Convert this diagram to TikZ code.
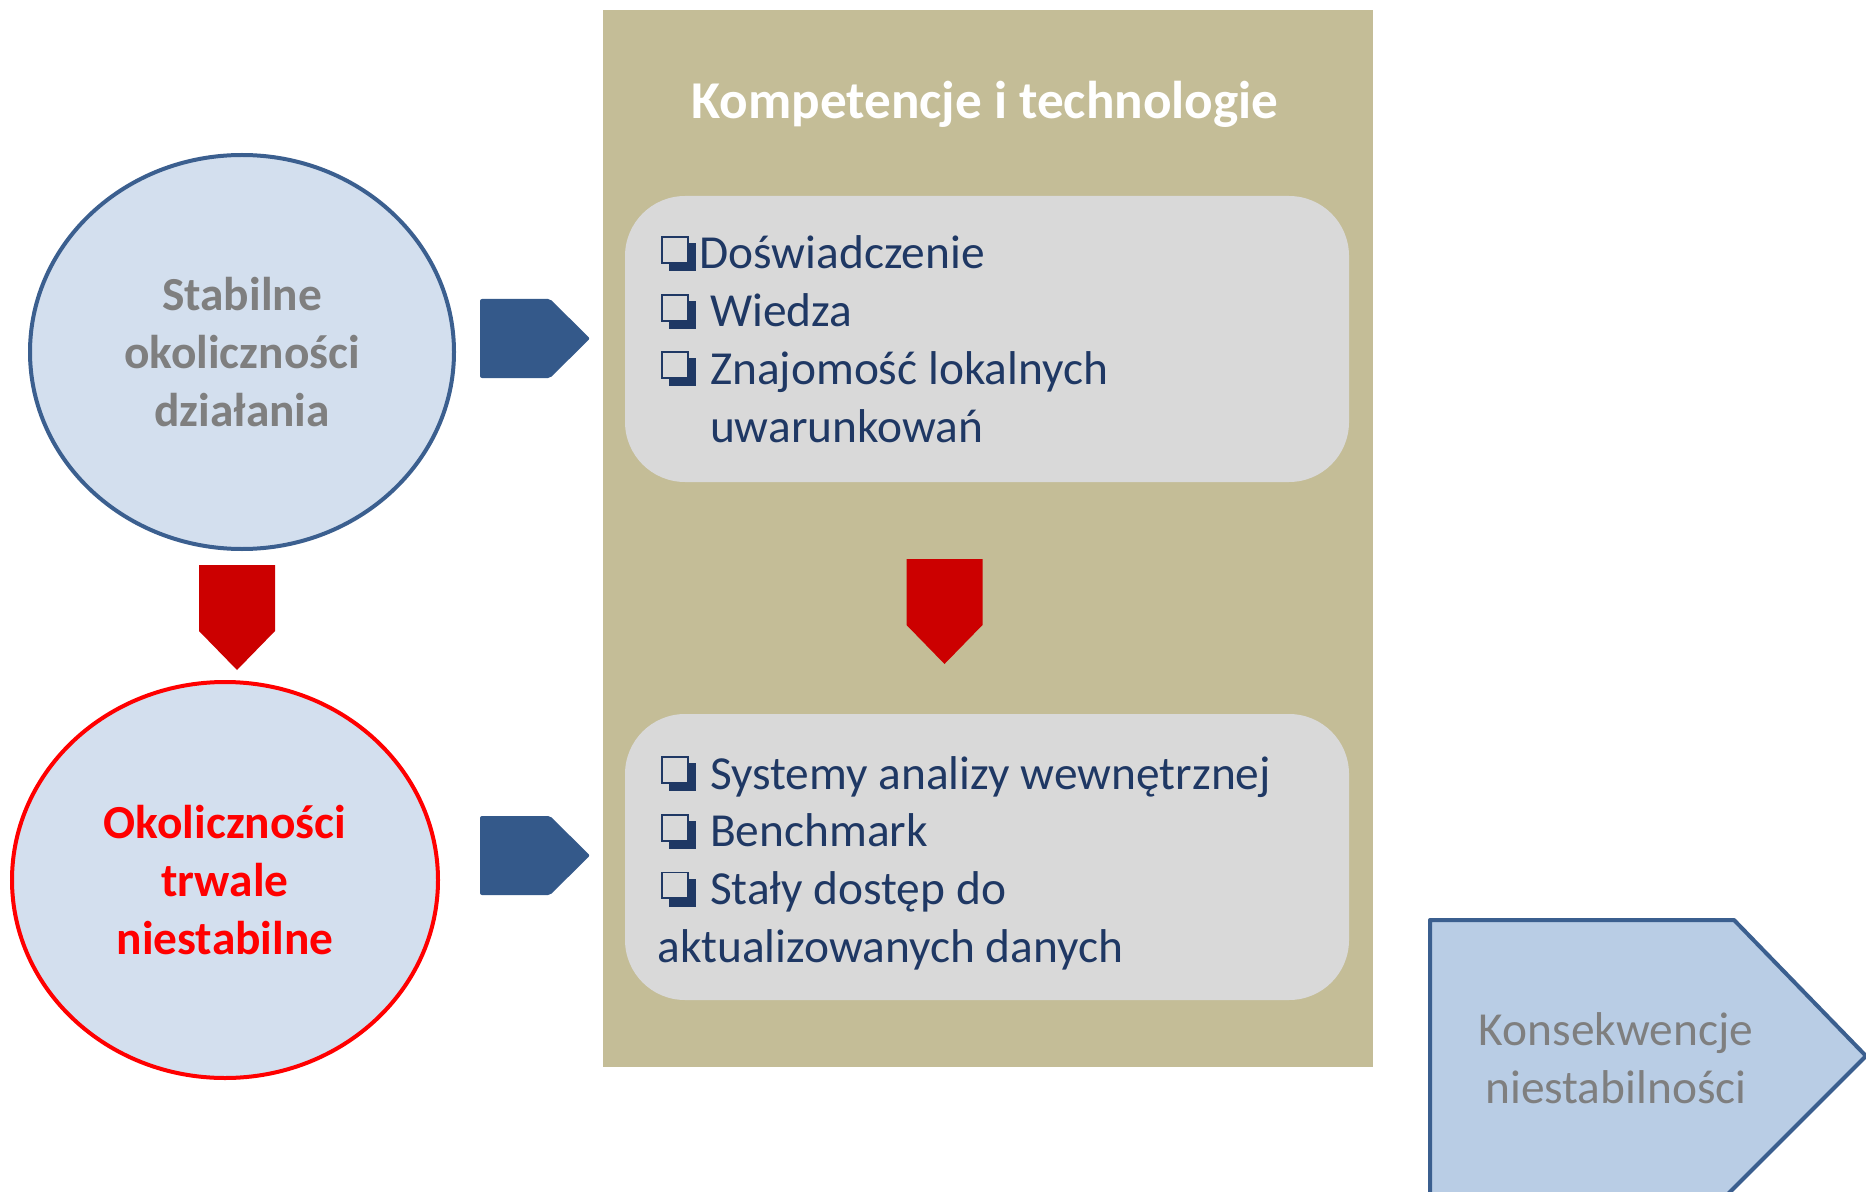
\documentclass[tikz,border=0pt]{standalone}
\usepackage{fontspec}
\setmainfont{Carlito}
\usetikzlibrary{shapes.geometric}
\definecolor{khaki}{HTML}{C4BD97}
\definecolor{boxgray}{HTML}{D9D9D9}
\definecolor{navy}{HTML}{1F3864}
\definecolor{steel}{HTML}{34598A}
\definecolor{darkred}{HTML}{CC0000}
\definecolor{paleblue}{HTML}{D3DFEE}
\definecolor{ringblue}{HTML}{3B5F8F}
\definecolor{lightsteel}{HTML}{B9CDE5}
\definecolor{midgray}{HTML}{7F7F7F}
\newcommand\bodysize{\fontsize{23.7}{28.9}\selectfont}
% shadowed check box
\newcommand\chk{%
 \rlap{\hspace{.15em}\raisebox{-.04em}{\color{navy}\rule{.59em}{.59em}}}%
 \rlap{\raisebox{.11em}{\color{navy}\rule{.59em}{.59em}}}%
 \rlap{\hspace{.042em}\raisebox{.152em}{\color{boxgray}\rule{.506em}{.506em}}}%
 \hspace{.8em}}

\begin{document}
\begin{tikzpicture}[x=.5pt,y=-.5pt,font=\bodysize]
\tikzset{itembox/.style={fill=boxgray,rounded corners=30pt,minimum width=362pt,minimum height=143pt},
 items/.style={text=navy,align=left,anchor=west,inner sep=0pt},
 stage/.style={ellipse,fill=paleblue,line width=2pt,align=center,inner sep=0pt,font=\bodysize\bfseries}}
\useasboundingbox (0,0) rectangle (1866,1192);
\fill[white] (0,0) rectangle (1866,1192);
\fill[khaki] (603,10) rectangle (1373,1067);
\node[text=white,font=\fontsize{26.6}{32}\selectfont\bfseries] (title) at (985,104) {Kompetencje i technologie};
\node[itembox] (upper) at (987,339) {};
\node[itembox] (lower) at (987,857) {};
\node[items] (skills) at (661,340) {\chk Doświadczenie\\ \chk\ Wiedza\\ \chk\ Znajomość lokalnych\\ \phantom{\chk}\ uwarunkowań};
\node[items] (tools) at (661,863) {\chk\ Systemy analizy wewnętrznej\\ \chk\ Benchmark\\ \chk\ Stały dostęp do\\ \hspace*{-2pt}aktualizowanych danych};
\node[stage,draw=ringblue,text=midgray,minimum width=212pt,minimum height=197pt] (stable) at (242,352) {Stabilne\\okoliczności\\działania};
\node[stage,draw=red,text=red,minimum width=213pt,minimum height=198pt] (unstable) at (225,880) {Okoliczności\\trwale\\niestabilne};
\foreach \y in {338.5,855.5}{
 \fill[steel,rounded corners=1pt] (480,\y-39.5) -- (550,\y-39.5) -- (590,\y) -- (550,\y+39.5) -- (480,\y+39.5) -- cycle;}
\foreach \x/\y in {237/565,944.5/559}{
 \fill[darkred] (\x-38,\y) -- (\x+38,\y) -- (\x+38,\y+66) -- (\x,\y+105) -- (\x-38,\y+66) -- cycle;}
\filldraw[fill=lightsteel,draw=ringblue,line width=2pt,line join=round] (1430,1240) -- (1430,920) -- (1734,920) -- (1866,1056) -- (1682,1240) -- cycle;
\node[text=midgray,align=center] (konsek) at (1616,1058) {Konsekwencje\\niestabilności};
\end{tikzpicture}
\end{document}
